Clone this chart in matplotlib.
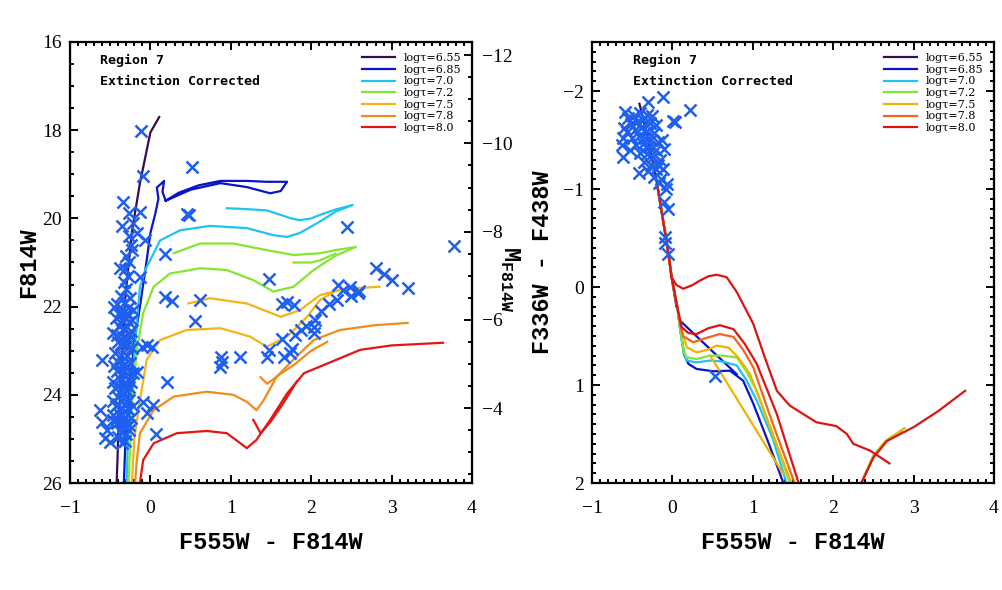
import matplotlib
matplotlib.use("Agg")
import matplotlib.pyplot as plt
from matplotlib.ticker import MultipleLocator

plt.rcParams["font.family"] = "Liberation Serif"
plt.rcParams["mathtext.fontset"] = "custom"
plt.rcParams["mathtext.rm"] = "Liberation Mono:bold"
plt.rcParams["mathtext.bf"] = "Liberation Mono:bold"

# ---- data -------------------------------------------------------------
ages = ["6.55", "6.85", "7.0", "7.2", "7.5", "7.8", "8.0"]
colors_left = ["#3c0a50", "#0a14c8", "#1ec3f0", "#82e632", "#f5b414", "#f08c1e", "#e61414"]
colors_right = ["#3c0a50", "#0a14c8", "#1ec3f0", "#82e632", "#f0b400", "#f0641e", "#dc1414"]
dist_mod = 28.3

# left panel: F555W-F814W vs F814W
l655_x = [-0.42, -0.41, -0.40, -0.36, -0.315, -0.23, -0.13, 0.0, 0.11]
l655_y = [26.0, 25.5, 24.9, 23.4, 21.85, 20.3, 19.2, 18.05, 17.7]
l685_x = [-0.33, -0.31, -0.27, -0.20, -0.13, -0.05, 0.0, 0.06, 0.10, 0.08, 0.13, 0.17, 0.15, 0.19]
l685_y = [26.0, 25.0, 24.0, 22.8, 22.0, 21.0, 20.33, 19.9, 19.55, 19.3, 19.22, 19.15, 19.4, 19.6]
l685b_x = [0.19, 0.35, 0.60, 0.87, 1.2, 1.45, 1.70, 1.62, 1.49, 1.20, 0.87, 0.50, 0.19]
l685b_y = [19.6, 19.42, 19.25, 19.15, 19.15, 19.17, 19.17, 19.38, 19.43, 19.29, 19.2, 19.35, 19.6]
l70_x = [-0.295, -0.28, -0.24, -0.18, -0.13, -0.06, 0.0, 0.12, 0.37, 0.74, 1.2, 1.53, 1.70, 1.86, 2.11, 2.3, 2.51]
l70_y = [26.0, 25.0, 24.0, 22.6, 21.55, 21.15, 20.94, 20.5, 20.27, 20.17, 20.22, 20.38, 20.42, 20.33, 20.07, 19.85, 19.7]
l70b_x = [0.95, 1.2, 1.45, 1.62, 1.75, 1.86, 2.0, 2.11, 2.3, 2.51]
l70b_y = [19.77, 19.79, 19.82, 19.92, 20.0, 20.04, 20.0, 19.92, 19.8, 19.7]
l72_x = [-0.27, -0.25, -0.22, -0.17, -0.09, 0.04, 0.245, 0.62, 0.95, 1.28, 1.53, 1.78, 2.03, 2.3, 2.55]
l72_y = [26.0, 25.0, 24.0, 23.0, 22.15, 21.55, 21.25, 21.13, 21.17, 21.4, 21.66, 21.55, 21.17, 20.85, 20.65]
l72b_x = [0.29, 0.62, 1.03, 1.45, 1.78, 2.11, 2.3, 2.55]
l72b_y = [20.79, 20.57, 20.57, 20.72, 20.83, 20.79, 20.72, 20.65]
l72c_x = [1.78, 2.0, 2.11, 2.3]
l72c_y = [21.0, 21.0, 20.95, 20.8]
l75_x = [-0.23, -0.20, -0.13, -0.045, 0.12, 0.45, 0.87, 1.24, 1.45, 1.70, 1.95, 2.11, 2.3, 2.55]
l75_y = [26.0, 25.0, 24.12, 23.2, 22.76, 22.53, 22.49, 22.68, 22.91, 22.68, 22.23, 21.85, 21.65, 21.56]
l75b_x = [0.47, 0.74, 1.2, 1.62, 1.86, 2.11, 2.4, 2.85]
l75b_y = [21.93, 21.81, 21.93, 22.23, 22.08, 21.74, 21.6, 21.55]
l78_x = [-0.19, -0.17, -0.13, 0.04, 0.29, 0.70, 1.03, 1.20, 1.32, 1.41, 1.57, 1.78, 2.03, 2.36, 2.8, 3.20]
l78_y = [26.0, 25.5, 24.87, 24.35, 24.04, 23.93, 24.0, 24.16, 24.35, 24.12, 23.59, 23.2, 22.76, 22.53, 22.42, 22.37]
l78b_x = [1.37, 1.45, 1.6, 1.8, 2.0, 2.2]
l78b_y = [23.6, 23.75, 23.55, 23.3, 23.0, 22.8]
l80_x = [-0.13, -0.09, 0.04, 0.33, 0.70, 0.95, 1.12, 1.20, 1.32, 1.49, 1.70, 1.91, 2.11, 2.61, 3.0, 3.64]
l80_y = [26.0, 25.48, 25.1, 24.87, 24.82, 24.87, 25.1, 25.21, 25.02, 24.57, 23.97, 23.51, 23.36, 22.98, 22.88, 22.82]
l80b_x = [1.28, 1.37, 1.5, 1.65, 1.82]
l80b_y = [24.57, 24.87, 24.6, 24.2, 23.7]

# right panel: F555W-F814W vs F336W-F438W
r655_x = [-0.41, -0.30, -0.19, -0.12, -0.06, 0.0, 0.05]
r655_y = [-1.87, -1.5, -1.05, -0.7, -0.4, -0.05, 0.2]
r685_x = [-0.19, -0.12, -0.06, -0.01, 0.06, 0.10, 0.15, 0.20, 0.30, 0.51, 0.716, 0.88, 1.006, 1.2, 1.38]
r685_y = [-1.05, -0.7, -0.4, -0.1, 0.2, 0.45, 0.7, 0.785, 0.836, 0.86, 0.854, 0.956, 1.19, 1.6, 2.0]
r685b_x = [0.09, 0.80]
r685b_y = [0.34, 0.89]
r70_x = [-0.19, -0.12, -0.06, -0.01, 0.06, 0.10, 0.14, 0.178, 0.30, 0.47, 0.62, 0.80, 0.92, 1.05, 1.25, 1.42]
r70_y = [-1.05, -0.7, -0.4, -0.1, 0.2, 0.45, 0.68, 0.75, 0.77, 0.75, 0.76, 0.80, 0.95, 1.16, 1.55, 2.0]
r70b_x = [2.35, 2.50, 2.65, 2.85]
r70b_y = [2.0, 1.72, 1.58, 1.47]
r72_x = [-0.19, -0.12, -0.06, -0.01, 0.06, 0.10, 0.14, 0.178, 0.30, 0.47, 0.62, 0.80, 0.92, 1.05, 1.25, 1.46]
r72_y = [-1.05, -0.7, -0.4, -0.1, 0.2, 0.45, 0.65, 0.718, 0.735, 0.70, 0.70, 0.718, 0.86, 1.06, 1.5, 2.0]
r72b_x = [2.35, 2.50, 2.65, 2.89]
r72b_y = [2.0, 1.72, 1.57, 1.44]
r75_x = [-0.19, -0.12, -0.06, -0.01, 0.06, 0.12, 0.18, 0.30, 0.44, 0.55, 0.70, 0.82, 0.965, 1.2, 1.48]
r75_y = [-1.05, -0.7, -0.4, -0.1, 0.2, 0.45, 0.615, 0.667, 0.64, 0.598, 0.62, 0.72, 0.888, 1.4, 2.0]
r75b_x = [0.47, 1.38]
r75b_y = [0.70, 1.91]
r75c_x = [2.35, 2.50, 2.65, 2.87]
r75c_y = [2.0, 1.73, 1.58, 1.45]
r78_x = [-0.19, -0.12, -0.06, -0.01, 0.06, 0.10, 0.13, 0.26, 0.42, 0.59, 0.76, 0.88, 1.006, 1.25, 1.52]
r78_y = [-1.05, -0.7, -0.4, -0.1, 0.2, 0.4, 0.5, 0.564, 0.52, 0.48, 0.51, 0.64, 0.82, 1.4, 2.0]
r80_x = [-0.19, -0.12, -0.06, -0.01, 0.06, 0.115, 0.20, 0.30, 0.45, 0.59, 0.76, 0.90, 1.05, 1.30, 1.57]
r80_y = [-1.05, -0.7, -0.4, -0.1, 0.2, 0.41, 0.47, 0.48, 0.42, 0.39, 0.43, 0.58, 0.785, 1.30, 2.0]
r80b_x = [-0.01, 0.05, 0.135, 0.25, 0.343, 0.45, 0.55, 0.675, 0.80, 1.006, 1.15, 1.30, 1.46, 1.79, 2.04, 2.17, 2.25, 2.46, 2.70]
r80b_y = [-0.1, -0.02, 0.018, -0.02, -0.066, -0.11, -0.125, -0.10, 0.05, 0.376, 0.72, 1.06, 1.21, 1.38, 1.42, 1.50, 1.60, 1.67, 1.80]
r80c_x = [2.35, 2.50, 2.67, 3.0, 3.3, 3.64]
r80c_y = [2.0, 1.74, 1.57, 1.43, 1.27, 1.06]

left_tracks = [
    [(l655_x, l655_y)],
    [(l685_x, l685_y), (l685b_x, l685b_y)],
    [(l70_x, l70_y), (l70b_x, l70b_y)],
    [(l72_x, l72_y), (l72b_x, l72b_y), (l72c_x, l72c_y)],
    [(l75_x, l75_y), (l75b_x, l75b_y)],
    [(l78_x, l78_y), (l78b_x, l78b_y)],
    [(l80_x, l80_y), (l80b_x, l80b_y)],
]
right_tracks = [
    [(r655_x, r655_y)],
    [(r685_x, r685_y), (r685b_x, r685b_y)],
    [(r70_x, r70_y), (r70b_x, r70b_y)],
    [(r72_x, r72_y), (r72b_x, r72b_y)],
    [(r75_x, r75_y), (r75b_x, r75b_y), (r75c_x, r75c_y)],
    [(r78_x, r78_y)],
    [(r80_x, r80_y), (r80b_x, r80b_y), (r80c_x, r80c_y)],
]

# observed stars, left panel
left_star_x = [
    -0.116, 0.52, -0.087, -0.336, -0.128, -0.27, -0.356, 0.45, 0.486, -0.066, -0.23, -0.17,
    0.18, -0.38, -0.128, 0.18, 0.27, 0.62, 0.56, 1.48, 1.64, 1.78, 1.70, 1.87, 2.03, 2.03,
    1.64, 1.48, 1.45, 1.66, 1.74, 1.76, 0.877, 0.86, 1.12, 0.89, 0.21, -0.605, -0.045, 0.017,
    -0.107, -0.087, 0.037, -0.045, 0.07, -0.626, -0.605, -0.543, -0.564, -0.50, -0.46, -0.17,
    2.45, 3.77, 2.80, 2.91, 3.01, 3.21, 2.33, 2.40, 2.48, 2.58, 2.50, 2.60, 2.32, 2.22, 2.12,
    2.05, 1.93, 1.80,
    -0.41, -0.33, -0.26, -0.37, -0.29, -0.22, -0.43, -0.35, -0.27, -0.39, -0.31, -0.24,
    -0.42, -0.34, -0.28, -0.37, -0.30, -0.23, -0.44, -0.36, -0.29, -0.40, -0.32, -0.25,
    -0.42, -0.35, -0.28, -0.38, -0.31, -0.24, -0.44, -0.36, -0.29, -0.40, -0.33, -0.26,
    -0.43, -0.35, -0.28, -0.38, -0.31, -0.24, -0.42, -0.34, -0.27, -0.37, -0.30, -0.32,
    -0.36, -0.30, -0.25, -0.33, -0.28, -0.32, -0.26, -0.30, -0.24, -0.27, -0.22,
    -0.45, -0.38, -0.30, -0.23, -0.46, -0.40, -0.33, -0.26, -0.45, -0.38, -0.30, -0.22,
    -0.46, -0.40, -0.33, -0.26, -0.46, -0.40, -0.32, -0.22, -0.46, -0.41, -0.35, -0.26,
    -0.40, -0.35,
]
left_star_y = [
    18.02, 18.83, 19.04, 19.62, 19.85, 19.88, 20.17, 19.9, 19.92, 20.49, 20.72, 20.33,
    20.81, 21.13, 21.32, 21.78, 21.87, 21.85, 22.33, 21.38, 21.93, 21.96, 21.9, 22.53, 22.46, 22.6,
    22.74, 22.98, 23.14, 23.14, 23.05, 22.97, 23.14, 23.36, 23.15, 23.25, 23.7, 23.2, 22.87, 22.92,
    22.91, 24.16, 24.23, 24.42, 24.9, 24.34, 24.61, 24.8, 24.99, 25.06, 24.57, 23.48,
    20.2, 20.63, 21.12, 21.26, 21.4, 21.58, 21.5, 21.62, 21.55, 21.7, 21.75, 21.65, 21.85, 21.95, 22.1,
    22.3, 22.45, 22.65,
    21.95, 21.92, 22.0, 22.1, 22.15, 22.08, 22.25, 22.3, 22.35, 22.45, 22.5, 22.55,
    22.65, 22.7, 22.75, 22.85, 22.9, 22.95, 23.05, 23.1, 23.12, 23.25, 23.3, 23.28,
    23.45, 23.5, 23.52, 23.65, 23.7, 23.72, 23.85, 23.9, 23.92, 24.05, 24.1, 24.12,
    24.25, 24.3, 24.33, 24.45, 24.5, 24.52, 24.65, 24.7, 24.68, 24.85, 24.9, 25.05,
    21.75, 21.6, 21.8, 21.45, 21.3, 21.15, 21.0, 20.85, 20.6, 20.4, 20.1,
    22.0, 22.2, 22.25, 22.3, 22.6, 22.8, 22.8, 22.65, 23.35, 23.4, 23.4, 23.5,
    23.7, 23.8, 23.8, 23.82, 24.15, 24.2, 24.2, 24.25, 24.45, 24.55, 24.6, 24.8,
    24.95, 25.1,
]

# observed stars, right panel
right_star_x = [
    -0.113, 0.22, 0.03, 0.01, -0.30, -0.59, -0.61, -0.42, -0.63, -0.53, -0.11, -0.13, -0.07,
    -0.14, -0.11, -0.05, -0.09, -0.09, -0.05, 0.53, -0.08, -0.12, -0.18,
    -0.55, -0.48, -0.40, -0.32, -0.25, -0.52, -0.44, -0.36, -0.28, -0.20, -0.56, -0.47,
    -0.39, -0.31, -0.23, -0.50, -0.42, -0.34, -0.26, -0.18, -0.45, -0.37, -0.29, -0.21,
    -0.40, -0.32, -0.24, -0.16, -0.35, -0.27, -0.20, -0.30, -0.23, -0.17, -0.60, -0.62,
]
right_star_y = [
    -1.94, -1.81, -1.685, -1.69, -1.89, -1.79, -1.33, -1.16, -1.45, -1.40, -1.41, -1.5, -1.055,
    -1.10, -0.867, -0.80, -0.51, -0.445, -0.34, 0.905, -1.0, -1.2, -1.25,
    -1.72, -1.75, -1.78, -1.76, -1.74, -1.66, -1.68, -1.70, -1.67, -1.65, -1.58, -1.60,
    -1.62, -1.59, -1.57, -1.52, -1.54, -1.52, -1.50, -1.48, -1.45, -1.46, -1.43, -1.40,
    -1.37, -1.36, -1.33, -1.30, -1.28, -1.25, -1.20, -1.18, -1.12, -1.06, -1.62, -1.52,
]

# ---- plotting ---------------------------------------------------------
MONO = "Liberation Mono"
STAR_COLOR = "#1e5ff0"

fig = plt.figure(figsize=(10.03, 5.90), dpi=100)
ax1 = fig.add_axes([70 / 1003, 107 / 590, 402 / 1003, 441 / 590])
ax3 = fig.add_axes([592 / 1003, 107 / 590, 402 / 1003, 441 / 590])


def style_axes(ax, ymajor, yminor, right=True):
    ax.xaxis.set_major_locator(MultipleLocator(1))
    ax.xaxis.set_minor_locator(MultipleLocator(0.1))
    ax.yaxis.set_major_locator(MultipleLocator(ymajor))
    ax.yaxis.set_minor_locator(MultipleLocator(yminor))
    ax.tick_params(which="both", direction="in", top=True, right=right,
                   width=1.4, labelsize=14)
    ax.tick_params(which="major", length=6)
    ax.tick_params(which="minor", length=3)
    ax.tick_params(axis="x", pad=12)
    ax.tick_params(axis="y", pad=6)
    for s in ax.spines.values():
        s.set_linewidth(1.6)


def draw_panel(ax, tracks, colors, sx, sy, text_x):
    for i, age in enumerate(ages):
        for j, (xs, ys) in enumerate(tracks[i]):
            ax.plot(xs, ys, color=colors[i], lw=1.6,
                    label=f"log\u03c4={age}" if j == 0 else None)
    ax.plot(sx, sy, "x", color=STAR_COLOR, ms=9, mew=1.8, ls="none", zorder=5)
    ax.legend(loc="upper right", frameon=False, prop={"family": "DejaVu Serif", "size": 8},
              handlelength=3.0, handletextpad=0.7, labelspacing=0.15,
              borderaxespad=0.6)
    ax.text(text_x, 0.959, "Region 7", transform=ax.transAxes,
            family="DejaVu Sans Mono", weight="bold", fontsize=9.5, va="center")
    ax.text(text_x, 0.910, "Extinction Corrected", transform=ax.transAxes,
            family="DejaVu Sans Mono", weight="bold", fontsize=9.5, va="center")
    ax.set_xlim(-1, 4)
    ax.set_xlabel("F555W - F814W", family=MONO, weight="bold", fontsize=17, labelpad=10)


# left: colour-magnitude diagram
draw_panel(ax1, left_tracks, colors_left, left_star_x, left_star_y, 0.075)
ax1.set_ylim(26, 16)
style_axes(ax1, 2, 0.5, right=False)
ax1.set_ylabel("F814W", family=MONO, weight="bold", fontsize=17, labelpad=1)

ax2 = ax1.twinx()
ax2.set_ylim(26 - dist_mod, 16 - dist_mod)
ax2.yaxis.set_major_locator(MultipleLocator(2))
ax2.yaxis.set_minor_locator(MultipleLocator(0.5))
ax2.tick_params(which="both", direction="in", width=1.4, labelsize=14, pad=7)
ax2.tick_params(which="major", length=6)
ax2.tick_params(which="minor", length=3)
ax2.text(1.094, 0.463, r"$\mathbf{M_{F814W}}$", transform=ax2.transAxes,
         rotation=270, fontsize=17, ha="center", va="center")

# right: colour-colour diagram
draw_panel(ax3, right_tracks, colors_right, right_star_x, right_star_y, 0.102)
ax3.set_ylim(2, -2.5)
style_axes(ax3, 1, 0.1)
ax3.set_ylabel("F336W - F438W", family=MONO, weight="bold", fontsize=17, labelpad=6)

fig.savefig("out.png", dpi=100)
